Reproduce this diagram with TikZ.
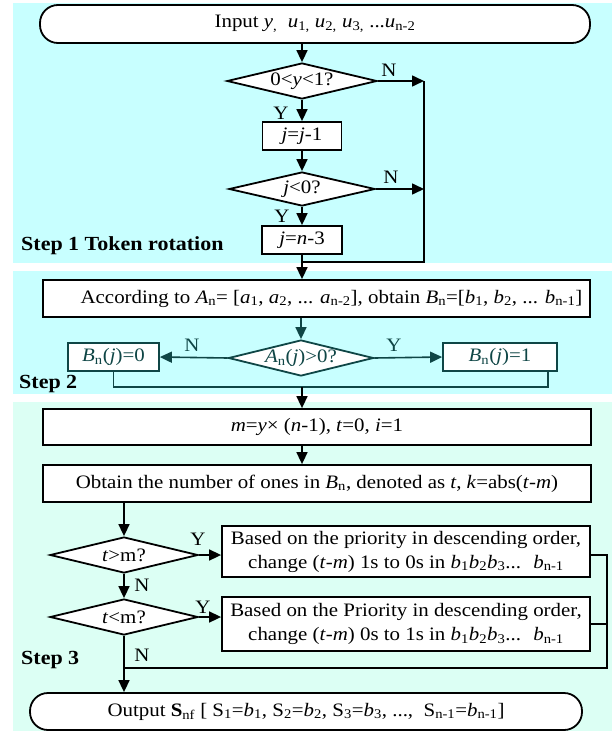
\documentclass[tikz,border=0pt]{standalone}
\usepackage{fontspec}
\setmainfont[FakeStretch=1.1]{Liberation Serif}
\usetikzlibrary{shapes.geometric,arrows.meta}
\definecolor{cyanbg}{HTML}{C8FFFF}
\definecolor{mintbg}{HTML}{DCFFF4}
\definecolor{tealc}{HTML}{0F4646}
\begin{document}
\begin{tikzpicture}[x=1pt,y=-1pt,
  every node/.style={font=\fontsize{19}{24}\selectfont, inner sep=0pt},
  box/.style={draw=black, line width=1.8pt, fill=white, rectangle},
  tbox/.style={draw=tealc, text=tealc, line width=1.8pt, fill=white, rectangle},
  term/.style={draw=black, line width=1.8pt, fill=white, rectangle, rounded corners=18pt},
  dia/.style={draw=black, line width=1.8pt, fill=white, diamond},
  steplab/.style={font=\fontsize{20}{22}\selectfont\bfseries, anchor=west},
  conn/.style={line width=1.6pt},
  arr/.style={conn, -{Triangle[length=12pt,width=11pt]}},
]
\useasboundingbox (0,0) rectangle (612,731);
\fill[cyanbg] (13,3) rectangle (612,263);
\fill[cyanbg] (13,271) rectangle (612,394);
\fill[mintbg] (13,402) rectangle (612,731);

% Step 1
\node[term, minimum width=550pt, minimum height=38pt] (in) at (315,24)
  {Input \textit{y}\textsubscript{,}\ \ \textit{u}\textsubscript{1,} \textit{u}\textsubscript{2,} \textit{u}\textsubscript{3,} ...\textit{u}\textsubscript{n-2}};
\node[dia, minimum width=150pt, minimum height=36pt] (d1) at (302,81) {};
\node (t1) at (d1.center) {0<\textit{y}<1?};
\node[box, minimum width=79pt, minimum height=28pt] (b1) at (302,136) {\textit{j}=\textit{j}-1};
\node[dia, minimum width=146pt, minimum height=34pt] (d2) at (302,189) {};
\node (t2) at (d2.center) {\textit{j}<0?};
\node[box, minimum width=80pt, minimum height=28pt] (b2) at (302,240) {\textit{j}=\textit{n}-3};
\node[steplab] (s1) at (21,246) {Step 1 Token rotation};
\coordinate (rx) at (424,262);

\node (n1) at (389,70) {N};
\node (y1) at (281,113) {Y};
\node (n2) at (391,177) {N};
\node (y2) at (282,216) {Y};

\draw[arr] (in.south -| d1.north) -- (d1.north);
\draw[arr] (d1.south) -- (b1.north);
\draw[arr] (b1.south) -- (d2.north);
\draw[arr] (d2.south) -- (b2.north);
\draw[arr] (d1.east) -- (d1.east -| rx);
\draw[arr] (d2.east) -- (d2.east -| rx);
\draw[conn] (d1.east -| rx) -- (rx) -- (b2.south |- rx);

% Step 2
\node[box, minimum width=547pt, minimum height=37pt] (acc) at (316.5,298.5)
  {\hspace*{30pt}According to \textit{A}\textsubscript{n}= [\textit{a}\textsubscript{1}, \textit{a}\textsubscript{2}, ... \textit{a}\textsubscript{n-2}], obtain \textit{B}\textsubscript{n}=[\textit{b}\textsubscript{1}, \textit{b}\textsubscript{2}, ... \textit{b}\textsubscript{n-1}]};
\draw[arr] (b2.south) -- (acc.north -| b2.south);
\node[dia, draw=tealc, minimum width=145pt, minimum height=36pt] (d3) at (301,358) {};
\node[text=tealc] (t3) at (d3.center) {\textit{A}\textsubscript{n}(\textit{j})>0?};
\node[tbox, minimum width=91pt, minimum height=28pt] (B0) at (113.5,357) {\textit{B}\textsubscript{n}(\textit{j})=0};
\node[tbox, minimum width=114pt, minimum height=28pt] (B1) at (500,357) {\textit{B}\textsubscript{n}(\textit{j})=1};
\node[steplab] (s2) at (19,384) {Step 2};
\node[text=tealc] (n3) at (192,345) {N};
\node[text=tealc] (y3) at (394,345) {Y};
\coordinate (j2) at (302,387);
\coordinate (b1r) at (548,387);
\draw[arr, draw=tealc] (acc.south -| d3.north) -- (d3.north);
\draw[arr, draw=tealc] (d3.west) -- (B0.east);
\draw[arr, draw=tealc] (d3.east) -- (B1.west);
\draw[conn, draw=tealc] (B0.south) |- (b1r) -- (b1r |- B1.south);

% Step 3
\node[box, minimum width=548pt, minimum height=36pt] (mb) at (317,427)
  {\textit{m}=\textit{y}× (\textit{n}-1), \textit{t}=0, \textit{i}=1};
\node[box, minimum width=548pt, minimum height=37pt] (ob) at (317,483.5)
  {Obtain the number of ones in \textit{B}\textsubscript{n}, denoted as \textit{t}, \textit{k}=abs(\textit{t}-\textit{m})};
\draw[arr] (j2) -- (mb.north -| j2);
\draw[arr] (mb.south -| j2) -- (ob.north -| j2);

\node[dia, minimum width=148pt, minimum height=36pt] (d4) at (124,555) {};
\node (t4) at (d4.center) {\textit{t}>m?};
\node[dia, minimum width=148pt, minimum height=36pt] (d5) at (124,617) {};
\node (t5) at (d5.center) {\textit{t}<m?};
\node[box, minimum width=368pt, minimum height=51pt, align=center] (x1) at (406,551.5)
  {Based on the priority in descending order,\\change (\textit{t}-\textit{m}) 1s to 0s in \textit{b}\textsubscript{1}\textit{b}\textsubscript{2}\textit{b}\textsubscript{3}...~ \textit{b}\textsubscript{n-1}};
\node[box, minimum width=368pt, minimum height=54pt, align=center] (x2) at (406,624)
  {Based on the Priority in descending order,\\change (\textit{t}-\textit{m}) 0s to 1s in \textit{b}\textsubscript{1}\textit{b}\textsubscript{2}\textit{b}\textsubscript{3}...~ \textit{b}\textsubscript{n-1}};
\node[term, minimum width=552pt, minimum height=37pt] (out) at (306,711.5)
  {Output \textbf{S}\textsubscript{nf} [ S\textsubscript{1}=\textit{b}\textsubscript{1}, S\textsubscript{2}=\textit{b}\textsubscript{2}, S\textsubscript{3}=\textit{b}\textsubscript{3}, ..., ~S\textsubscript{n-1}=\textit{b}\textsubscript{n-1}]};
\node[steplab] (s3) at (21,660) {Step 3};
\node (y4) at (198,539) {Y};
\node (n4) at (142,585) {N};
\node (y5) at (203,607) {Y};
\node (n5) at (142,655) {N};
\coordinate (rr) at (607,668);

\draw[arr] (ob.south -| d4.north) -- (d4.north);
\draw[arr] (d4.east) -- (x1.west |- d4.east);
\draw[arr] (d4.south) -- (d5.north);
\draw[arr] (d5.east) -- (x2.west |- d5.east);
\draw[arr] (d5.south) -- (out.north -| d5.south);
\draw[conn] (x1.east |- d4.east) -- (d4.east -| rr) -- (rr) -- (d5.south |- rr);
\draw[conn] (x2.east) -- (x2.east -| rr);
\end{tikzpicture}
\end{document}
